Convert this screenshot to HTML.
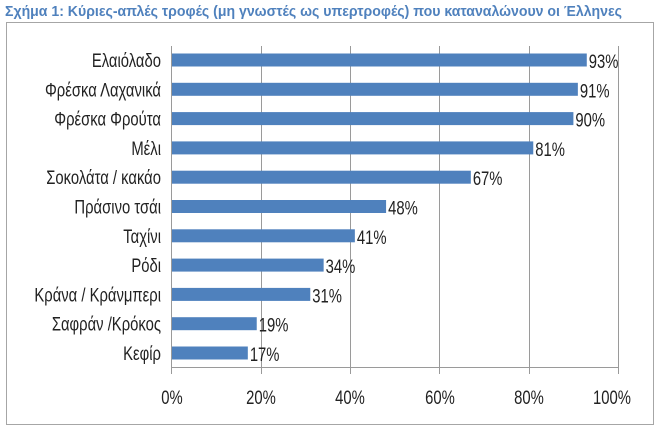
<!DOCTYPE html>
<html><head><meta charset="utf-8"><style>
html,body{margin:0;padding:0;background:#fff;width:660px;height:431px;overflow:hidden}
text{font-family:"Liberation Sans",sans-serif}
</style></head><body>
<svg width="660" height="431" xmlns="http://www.w3.org/2000/svg">
<text x="5" y="16" font-size="15" fill="#4f81bd" font-weight="bold" textLength="617" lengthAdjust="spacingAndGlyphs">Σχήμα 1: Κύριες-απλές τροφές (μη γνωστές ως υπερτροφές) που καταναλώνουν οι Έλληνες</text>
<rect x="6.5" y="22.5" width="647" height="402" fill="#fff" stroke="#a6a6a6"/>
<g stroke="#9a9a9a" stroke-width="1">
<line x1="261.5" y1="46" x2="261.5" y2="374"/>
<line x1="350.5" y1="46" x2="350.5" y2="374"/>
<line x1="439.5" y1="46" x2="439.5" y2="374"/>
<line x1="529.5" y1="46" x2="529.5" y2="374"/>
<line x1="618.5" y1="46" x2="618.5" y2="374"/>
<line x1="171.5" y1="46" x2="171.5" y2="374"/>
<line x1="171" y1="367.5" x2="619" y2="367.5"/>
</g>
<g id="bars" fill="#4f81bd"></g>
<g id="labels" font-size="19" fill="#222"></g>
<g id="ticks" font-size="19" fill="#222" text-anchor="middle">
<text x="172" y="404">0%</text><text x="261" y="404">20%</text><text x="350" y="404">40%</text>
<text x="440" y="404">60%</text><text x="529" y="404">80%</text><text x="612" y="404">100%</text>
</g>
<script>
const d=[["Ελαιόλαδο",93],["Φρέσκα Λαχανικά",91],["Φρέσκα Φρούτα",90],["Μέλι",81],["Σοκολάτα / κακάο",67],["Πράσινο τσάι",48],["Ταχίνι",41],["Ρόδι",34],["Κράνα / Κράνμπερι",31],["Σαφράν /Κρόκος",19],["Κεφίρ",17]];
const ns="http://www.w3.org/2000/svg",b=document.getElementById("bars"),l=document.getElementById("labels");
d.forEach((r,i)=>{const c=60+29.3*i,w=r[1]*4.46;
const e=document.createElementNS(ns,"rect");e.setAttribute("x",172);e.setAttribute("y",c-6.5);e.setAttribute("width",w);e.setAttribute("height",13);b.appendChild(e);
let t=document.createElementNS(ns,"text");t.setAttribute("x",161);t.setAttribute("y",c+7);t.setAttribute("text-anchor","end");t.textContent=r[0];l.appendChild(t);
t=document.createElementNS(ns,"text");t.setAttribute("x",172+w+2);t.setAttribute("y",c+8);t.textContent=r[1]+"%";l.appendChild(t);});
document.querySelectorAll("#labels text, #ticks text").forEach(t=>{const L=t.getComputedTextLength();t.setAttribute("textLength",L*0.78);t.setAttribute("lengthAdjust","spacingAndGlyphs");});
</script>
</svg>
</body></html>
